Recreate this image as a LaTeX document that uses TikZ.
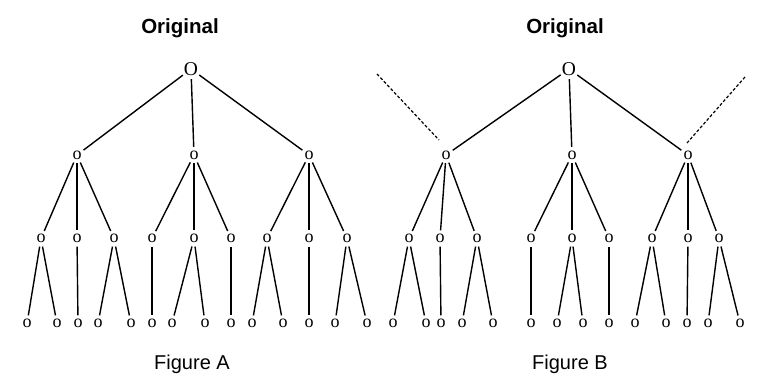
\documentclass[tikz,border=0pt]{standalone}
\usepackage{fontspec}
\setmainfont{Liberation Serif}
\newfontfamily\arialf{Liberation Sans}
\begin{document}
\begin{tikzpicture}[x=1pt,y=-1pt,
  nd/.style={circle,inner sep=0pt,minimum size=16pt,font=\fontsize{18}{18}\selectfont},
  rootn/.style={circle,inner sep=0pt,minimum size=20pt,font=\fontsize{19.5}{19.5}\selectfont},
  edge/.style={line width=1.4pt},
  dashedge/.style={line width=1.2pt,dash pattern=on 3pt off 2pt},
  title/.style={anchor=base,font=\arialf\bfseries\fontsize{20.5}{20.5}\selectfont},
  caption/.style={anchor=base,font=\arialf\fontsize{20}{20}\selectfont}]
\useasboundingbox (0,0) rectangle (782,381);
% titles and captions
\node[title] (ta) at (180,33) {Original};
\node[title] (tb) at (565,33) {Original};
\node[caption] (fa) at (192,369) {Figure A};
\node[caption] (fb) at (570,369) {Figure B};
% ---------- Figure A ----------
\node[rootn] (a0) at (191,69) {O};
\foreach \i/\x in {1/77,2/194,3/309} \node[nd] (aq\i) at (\x,155) {o};
\foreach \i/\x in {1/41,2/77,3/114,4/152,5/194,6/231,7/267,8/309,9/347} \node[nd] (ap\i) at (\x,238.5) {o};
\foreach \i/\x in {1/27,2/57,3/78,4/98,5/131,6/152,7/172,8/205,9/231,10/252,11/283,12/309,13/335,14/367} \node[nd] (ac\i) at (\x,323.5) {o};
\foreach \c in {1,2,3} \draw[edge] (a0) -- (aq\c);
\foreach \q/\p in {1/1,1/2,1/3,2/4,2/5,2/6,3/7,3/8,3/9} \draw[edge] (aq\q) -- (ap\p);
\foreach \p/\c in {1/1,1/2,2/3,3/4,3/5,4/6,5/7,5/8,6/9,7/10,7/11,8/12,9/13,9/14} \draw[edge] (ap\p) -- (ac\c);
% ---------- Figure B ----------
\node[rootn] (b0) at (569,69) {O};
\foreach \i/\x in {1/446,2/572,3/688} \node[nd] (bq\i) at (\x,155) {o};
\foreach \i/\x in {1/409,2/440,3/477,4/531,5/572,6/609,7/652,8/688,9/719} \node[nd] (bp\i) at (\x,238.5) {o};
\foreach \i/\x in {1/393,2/426,3/441,4/462,5/493,6/531,7/557,8/583,9/609,10/635,11/666,12/687,13/708,14/740} \node[nd] (bc\i) at (\x,323.5) {o};
\foreach \c in {1,2,3} \draw[edge] (b0) -- (bq\c);
\foreach \q/\p in {1/1,1/2,1/3,2/4,2/5,2/6,3/7,3/8,3/9} \draw[edge] (bq\q) -- (bp\p);
\foreach \p/\c in {1/1,1/2,2/3,3/4,3/5,4/6,5/7,5/8,6/9,7/10,7/11,8/12,9/13,9/14} \draw[edge] (bp\p) -- (bc\c);
% dashed links
\coordinate (dls) at (377,74);
\coordinate (dle) at (439,140);
\coordinate (drs) at (745,77);
\coordinate (dre) at (687,143);
\draw[dashedge] (dls) -- (dle);
\draw[dashedge] (drs) -- (dre);
\end{tikzpicture}
\end{document}
